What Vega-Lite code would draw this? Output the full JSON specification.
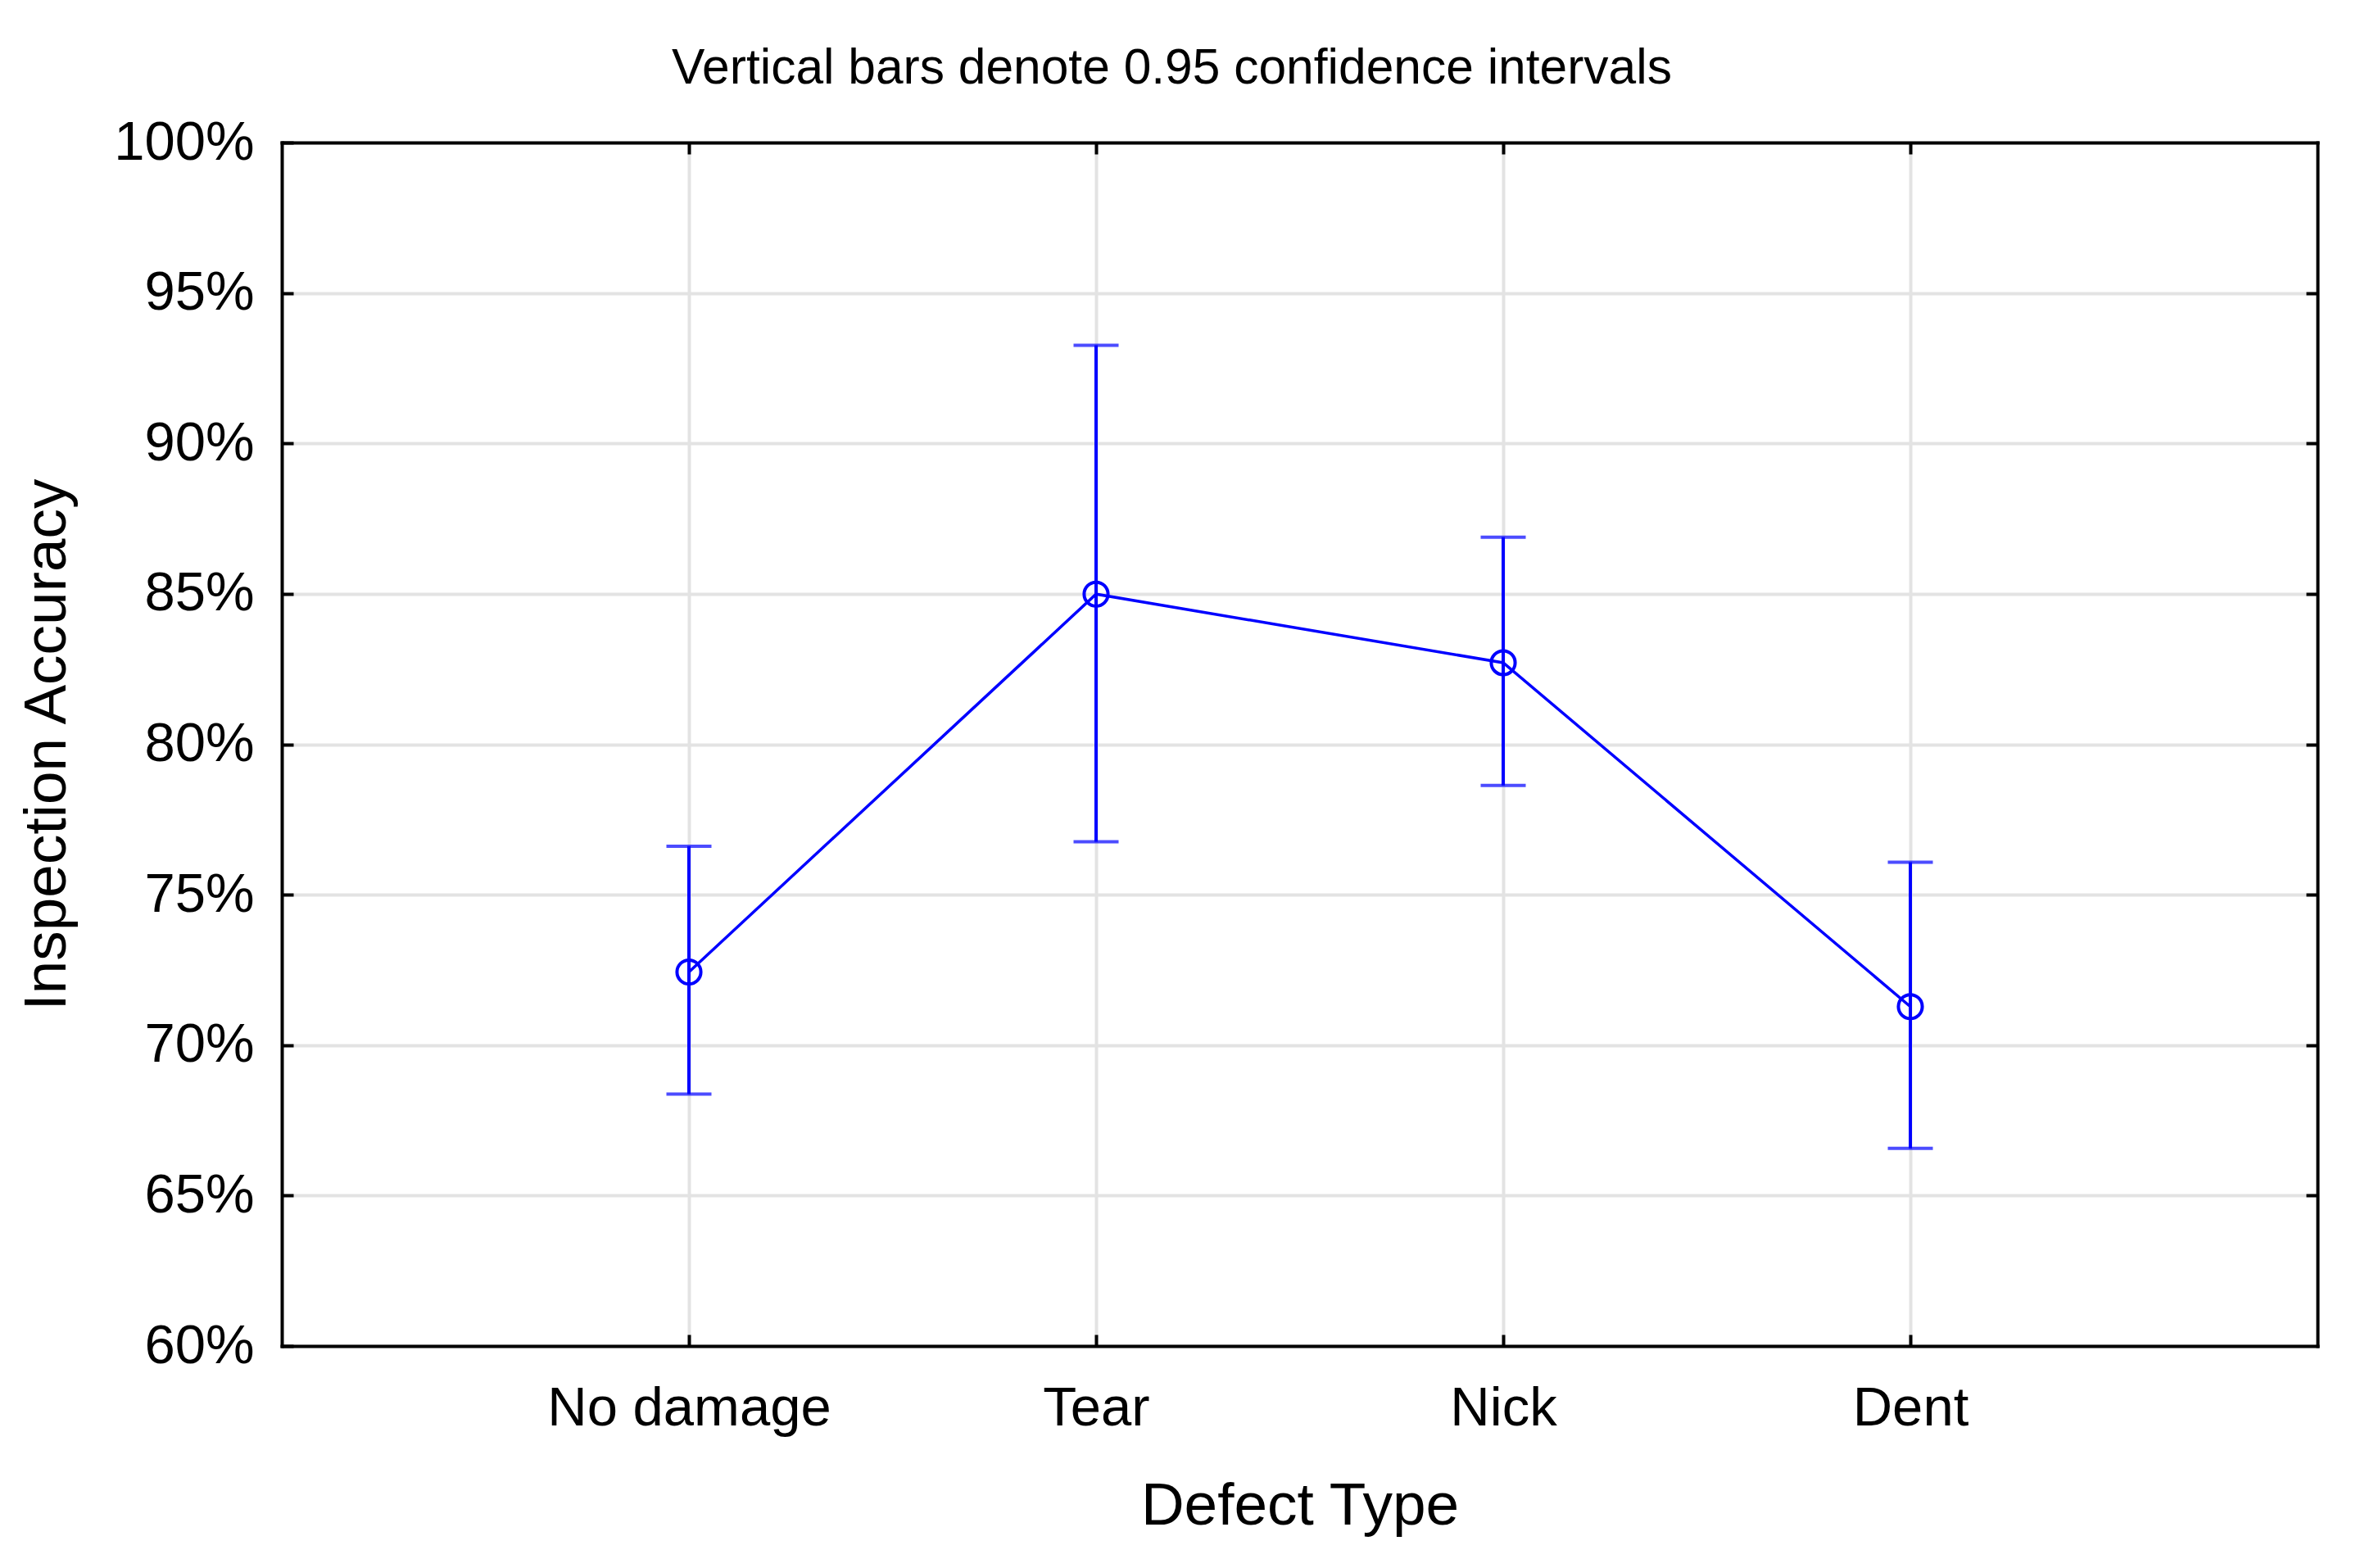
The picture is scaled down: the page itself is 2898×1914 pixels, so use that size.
{
  "$schema": "https://vega.github.io/schema/vega-lite/v6.json",
  "width": 2485,
  "height": 1469,
  "autosize": {"type": "none"},
  "padding": {"left": 344, "top": 174, "right": 69, "bottom": 271},
  "background": "white",
  "view": {"stroke": null},
  "title": {
    "text": "Vertical bars denote 0.95 confidence intervals",
    "font": "Liberation Sans",
    "fontSize": 60.5,
    "fontWeight": "normal",
    "color": "black",
    "anchor": "middle",
    "frame": "group",
    "dx": -156,
    "offset": -22,
    "baseline": "alphabetic"
  },
  "config": {
    "font": "Liberation Sans",
    "axis": {
      "labelFont": "Liberation Sans",
      "titleFont": "Liberation Sans",
      "labelColor": "black",
      "titleColor": "black",
      "labelFontSize": 67,
      "titleFontSize": 73,
      "titleFontWeight": "normal",
      "labelLimit": 1000,
      "domain": true,
      "domainColor": "black",
      "domainWidth": 4,
      "domainCap": "square",
      "tickColor": "black",
      "tickWidth": 4,
      "tickSize": -14,
      "gridColor": "#e3e3e3",
      "gridWidth": 4,
      "gridOpacity": 1
    }
  },
  "data": {
    "values": [
      {"defect": "No damage", "mean": 72.43, "lower": 68.37, "upper": 76.61},
      {"defect": "Tear", "mean": 84.99, "lower": 76.76, "upper": 93.26},
      {"defect": "Nick", "mean": 82.71, "lower": 78.63, "upper": 86.88},
      {"defect": "Dent", "mean": 71.28, "lower": 66.57, "upper": 76.08}
    ]
  },
  "layer": [
    {
      "mark": {"type": "rule", "color": "#0000ff", "strokeWidth": 4},
      "encoding": {
        "x": {
          "field": "defect", "type": "nominal",
          "sort": ["No damage", "Tear", "Nick", "Dent"],
          "scale": {"type": "point", "padding": 1},
          "axis": {"title": "Defect Type", "labelAngle": 0, "grid": true, "labelPadding": 57, "titlePadding": 50}
        },
        "y": {
          "field": "lower", "type": "quantitative",
          "scale": {"domain": [60, 100], "nice": false, "zero": false},
          "axis": {"title": "Inspection Accuracy", "values": [60, 65, 70, 75, 80, 85, 90, 95, 100], "labelExpr": "datum.value + '%'", "grid": true, "labelPadding": 48, "titlePadding": 50}
        },
        "y2": {"field": "upper"}
      }
    },
    {
      "mark": {"type": "tick", "color": "#0000ff", "size": 55, "thickness": 4},
      "encoding": {
        "x": {"field": "defect", "type": "nominal", "sort": ["No damage", "Tear", "Nick", "Dent"], "axis": null},
        "y": {"field": "lower", "type": "quantitative", "axis": null}
      }
    },
    {
      "mark": {"type": "tick", "color": "#0000ff", "size": 55, "thickness": 4},
      "encoding": {
        "x": {"field": "defect", "type": "nominal", "sort": ["No damage", "Tear", "Nick", "Dent"], "axis": null},
        "y": {"field": "upper", "type": "quantitative", "axis": null}
      }
    },
    {
      "mark": {"type": "line", "color": "#0000ff", "strokeWidth": 3.5},
      "encoding": {
        "x": {
          "field": "defect", "type": "nominal", "sort": ["No damage", "Tear", "Nick", "Dent"],
          "axis": {"orient": "top", "labels": false, "title": null, "grid": false}
        },
        "y": {
          "field": "mean", "type": "quantitative",
          "axis": {"orient": "right", "labels": false, "title": null, "grid": false, "values": [65, 70, 75, 80, 85, 90, 95]}
        }
      }
    },
    {
      "mark": {"type": "point", "shape": "circle", "filled": false, "color": "#0000ff", "strokeWidth": 4, "size": 850, "opacity": 1},
      "encoding": {
        "x": {"field": "defect", "type": "nominal", "sort": ["No damage", "Tear", "Nick", "Dent"], "axis": null},
        "y": {"field": "mean", "type": "quantitative", "axis": null}
      }
    }
  ],
  "resolve": {"axis": {"x": "independent", "y": "independent"}}
}
